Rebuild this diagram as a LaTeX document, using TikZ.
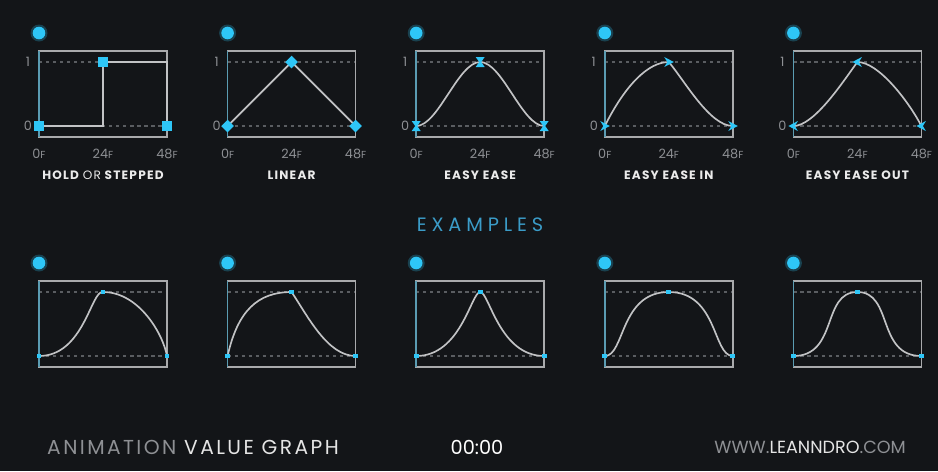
\documentclass[tikz,border=0pt]{standalone}
\usepackage{fontspec}
\setmainfont{Poppins}
\usetikzlibrary{shapes.geometric}
\definecolor{bg}{HTML}{131518}
\definecolor{keyc}{HTML}{2EC6F7}
\definecolor{frame}{HTML}{A9AAAC}
\definecolor{grid}{HTML}{5A5D61}
\definecolor{crv}{HTML}{C2C3C5}
\definecolor{hdr}{HTML}{3B9CC8}
\definecolor{dim}{HTML}{8E9094}
\tikzset{
  hglass/.pic={\fill[keyc] (-4.5,-5)--(4.5,-5)--(1,0)--(4.5,5)--(-4.5,5)--(-1,0)--cycle;},
  chevr/.pic={\fill[keyc] (-4.5,-5)--(5,0)--(-4.5,5)--(-1.5,0)--cycle;},
  chevl/.pic={\fill[keyc] (4.5,-5)--(-5,0)--(4.5,5)--(1.5,0)--cycle;}
}

\begin{document}
\begin{tikzpicture}[x=0.02cm,y=-0.02cm,
  frm/.style={draw=frame,line width=0.85pt},
  leftedge/.style={draw=keyc!50!frame!85!black,line width=0.85pt},
  guide/.style={draw=grid,line width=0.7pt,dash pattern=on 1.8pt off 2.2pt},
  curve/.style={draw=crv,line width=0.95pt},
  sqkey/.style={rectangle,fill=keyc,minimum size=5.4pt,inner sep=0pt},
  dmkey/.style={diamond,fill=keyc,minimum size=7.4pt,inner sep=0pt},
  smkey/.style={rectangle,fill=keyc,minimum size=2.8pt,inner sep=0pt},
  tick/.style={font=\fontsize{7.3}{8}\selectfont,text=dim,inner sep=0pt},
  ttl/.style={font=\fontsize{6.9}{8}\selectfont\bfseries\addfontfeature{LetterSpace=10},text=white!92!black,inner sep=0pt}]

% background, fixes the size
\fill[bg] (0,0) rectangle (938,471);

% frames, guides and the round dots of all ten graphs
\foreach \col in {0,...,4}
  \foreach \row in {126,356} {
    \begin{scope}[shift={({39+188.6*\col},\row)}]
      \draw[guide] (0,-64) -- (128,-64);
      \draw[guide] (0,0) -- (128,0);
      \draw[frm] (0,-75) rectangle (128,11);
      \draw[leftedge] (0,-75) -- (0,11);
      \fill[keyc,opacity=.25] (0,-93) circle (8.5);
      \fill[keyc] (0,-93) circle (6.3);
    \end{scope}
  }

% value and frame labels of the top row
\foreach \col/\name in {0/{HOLD {\mdseries OR} STEPPED},1/LINEAR,2/EASY EASE,3/EASY EASE IN,4/EASY EASE OUT} {
  \begin{scope}[shift={({39+188.6*\col},126)}]
    \node[tick] at (-11,-64) {1};
    \node[tick] at (-11,0) {0};
    \node[tick] at (0,28) {0{\fontsize{5.8}{6}\selectfont F}};
    \node[tick] at (64,28) {24{\fontsize{5.8}{6}\selectfont F}};
    \node[tick] at (128,28) {48{\fontsize{5.8}{6}\selectfont F}};
    \node[ttl] at (64,49) {\name};
  \end{scope}
}

% hold
\begin{scope}[shift={(39,126)}]
  \draw[curve] (0,0) -- (64,0) -- (64,-64) -- (128,-64) -- (128,0);
  \node[sqkey] (h0) at (0,0) {};
  \node[sqkey] (h1) at (64,-64) {};
  \node[sqkey] (h2) at (128,0) {};
\end{scope}

% linear
\begin{scope}[shift={(227.6,126)}]
  \draw[curve] (0,0) -- (64,-64) -- (128,0);
  \node[dmkey] (l0) at (0,0) {};
  \node[dmkey] (l1) at (64,-64) {};
  \node[dmkey] (l2) at (128,0) {};
\end{scope}

% easy ease
\begin{scope}[shift={(416.2,126)}]
  \draw[curve] (0,0) .. controls (22,0) and (42,-64) .. (64,-64)
               .. controls (86,-64) and (106,0) .. (128,0);
  \pic (e0) at (0,0) {hglass};
  \pic (e1) at (64,-64) {hglass};
  \pic (e2) at (128,0) {hglass};
\end{scope}

% easy ease in
\begin{scope}[shift={(604.8,126)}]
  \draw[curve] (0,0) .. controls (20,-40) and (43,-64) .. (64,-64)
               .. controls (80,-45) and (105,0) .. (128,0);
  \pic (ei0) at (0,0) {chevr};
  \pic (ei1) at (64,-64) {chevr};
  \pic (ei2) at (128,0) {chevr};
\end{scope}

% easy ease out
\begin{scope}[shift={(793.4,126)}]
  \draw[curve] (0,0) .. controls (21,0) and (50,-45) .. (64,-64)
               .. controls (85,-64) and (115,-25) .. (128,0);
  \pic (eo0) at (0,0) {chevl};
  \pic (eo1) at (64,-64) {chevl};
  \pic (eo2) at (128,0) {chevl};
\end{scope}

\node[text=hdr,font=\fontsize{11}{12}\selectfont\addfontfeature{LetterSpace=25}] (examples) at (480,225) {EXAMPLES};

% examples
\begin{scope}[shift={(39,356)}]
  \draw[curve] (0,0) .. controls (45,0) and (52,-66) .. (64,-64)
               .. controls (100,-64) and (124,-22) .. (128,0);
  \node[smkey] (a0) at (0,0) {};
  \node[smkey] (a1) at (64,-64) {};
  \node[smkey] (a2) at (128,0) {};
\end{scope}
\begin{scope}[shift={(227.6,356)}]
  \draw[curve] (0,0) .. controls (10,-45) and (30,-64) .. (64,-64)
               .. controls (80,-40) and (100,0) .. (128,0);
  \node[smkey] (b0) at (0,0) {};
  \node[smkey] (b1) at (64,-64) {};
  \node[smkey] (b2) at (128,0) {};
\end{scope}
\begin{scope}[shift={(416.2,356)}]
  \draw[curve] (0,0) .. controls (45,0) and (55,-64) .. (64,-64)
               .. controls (73,-64) and (83,0) .. (128,0);
  \node[smkey] (c0) at (0,0) {};
  \node[smkey] (c1) at (64,-64) {};
  \node[smkey] (c2) at (128,0) {};
\end{scope}
\begin{scope}[shift={(604.8,356)}]
  \draw[curve] (0,0) .. controls (20,0) and (15,-64) .. (64,-64)
               .. controls (113,-64) and (108,0) .. (128,0);
  \node[smkey] (d0) at (0,0) {};
  \node[smkey] (d1) at (64,-64) {};
  \node[smkey] (d2) at (128,0) {};
\end{scope}
\begin{scope}[shift={(793.4,356)}]
  \draw[curve] (0,0) .. controls (45,0) and (28,-64) .. (64,-64)
               .. controls (100,-64) and (83,0) .. (128,0);
  \node[smkey] (f0) at (0,0) {};
  \node[smkey] (f1) at (64,-64) {};
  \node[smkey] (f2) at (128,0) {};
\end{scope}

% footer
\node[anchor=west,text=white!90!black,font=\fontsize{11.5}{13}\selectfont\addfontfeature{LetterSpace=12}] (title) at (41,447)
  {{\color{dim}ANIMATION} VALUE GRAPH};
\node[text=white,font=\fontsize{11}{12}\selectfont] (clock) at (477,447) {00:00};
\node[anchor=east,text=white!90!black,font=\fontsize{10}{11}\selectfont] (site) at (912,447)
  {{\color{dim}WWW.}LEANNDRO{\color{dim}.COM}};
\end{tikzpicture}
\end{document}
